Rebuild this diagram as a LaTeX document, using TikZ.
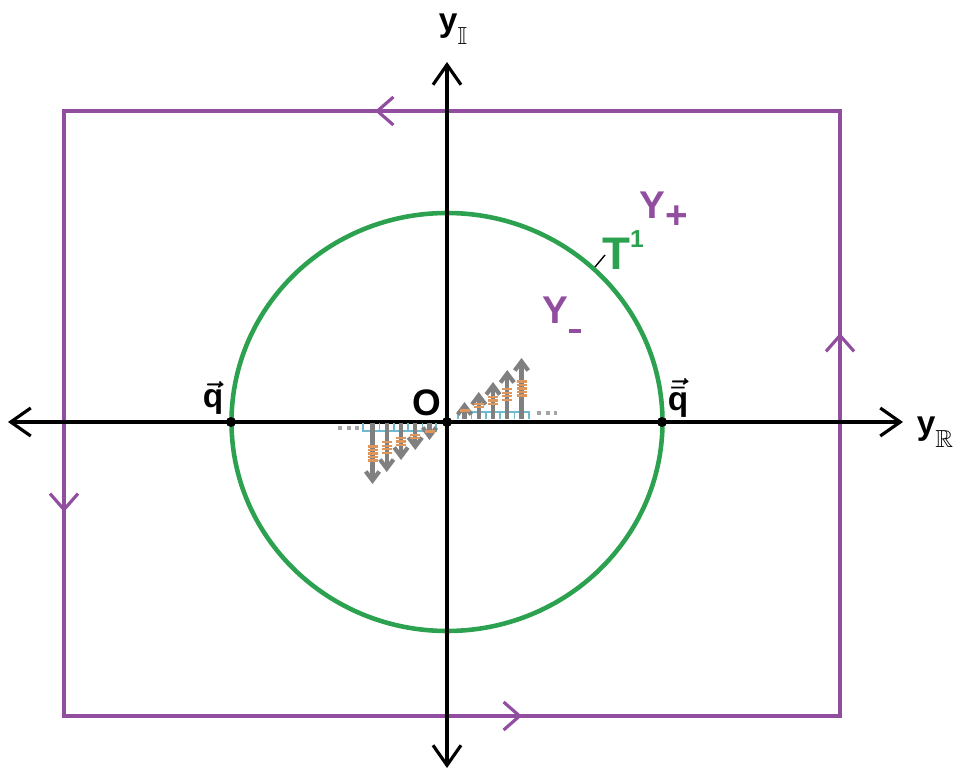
\documentclass[tikz,border=0pt]{standalone}
\usepackage{amsmath,amssymb}
\usepackage{fontspec}
\setmainfont{Liberation Sans}
\usetikzlibrary{arrows.meta,decorations.markings}
\definecolor{rimpurple}{RGB}{146,78,158}
\definecolor{torusgreen}{RGB}{44,162,80}
\definecolor{fieldgray}{RGB}{128,128,128}
\definecolor{dotgray}{RGB}{165,165,165}
\definecolor{tickorange}{RGB}{222,150,90}
\definecolor{stepcyan}{RGB}{110,185,205}

\begin{document}
\begin{tikzpicture}[
    axisline/.style={line width=0.9pt,{Straight Barb[length=2mm,width=2.8mm]}-{Straight Barb[length=2mm,width=2.8mm]}},
    fieldarrow/.style={fieldgray,line width=1.2pt,-{Straight Barb[length=0.9mm,width=1.35mm]}},
    lab/.style={font=\bfseries\fontsize{9.5}{10}\selectfont,inner sep=1pt}]
    \useasboundingbox (-4.47,-3.49) rectangle (5.12,4.22);
    \coordinate (O) at (0,0);
    \coordinate (qL) at (-2.16,0);
    \coordinate (qR) at (2.15,0);
    \coordinate (xl) at (-4.39,0);
    \coordinate (xr) at (4.56,0);
    \coordinate (yt) at (0,3.60);
    \coordinate (yb) at (0,-3.46);
    %% contour
    \draw[rimpurple,line width=0.9pt,postaction={decorate},decoration={markings,
        mark=at position 4.65cm with {\arrow{Straight Barb[length=1.6mm,width=2.8mm]}},
        mark=at position 11.77cm with {\arrow{Straight Barb[length=1.6mm,width=2.8mm]}},
        mark=at position 18.39cm with {\arrow{Straight Barb[length=1.6mm,width=2.8mm]}},
        mark=at position 25.40cm with {\arrow{Straight Barb[length=1.6mm,width=2.8mm]}}}]
        (3.93,3.11) -- (-3.83,3.11) -- (-3.83,-2.94) -- (3.93,-2.94) -- cycle;
    %% torus
    \draw[torusgreen,line width=1.3pt] (O) ellipse [x radius=2.155, y radius=2.09];
    %% axes
    \draw[axisline] (xl) -- (xr);
    \draw[axisline] (yb) -- (yt);
    %
    \draw[stepcyan,line width=0.5pt] (0.11,0.03) |- (0.82,0.10) -- (0.82,0.03);
    \draw[stepcyan,line width=0.5pt] (-0.11,-0.01) |- (-0.84,-0.09) -- (-0.84,-0.01);
    \foreach \m in {0.246,0.389,0.531,0.674} {
        \draw[stepcyan,line width=0.5pt] (\m,0.03) -- (\m,0.10);
        \draw[stepcyan,line width=0.5pt] (-\m,-0.01) -- (-\m,-0.09);
    }
    \draw[dotgray,line width=1.2pt,dash pattern=on 0.04cm off 0.045cm] (0.90,0.09) -- (1.10,0.09);
    \draw[dotgray,line width=1.2pt,dash pattern=on 0.04cm off 0.045cm] (-1.09,-0.06) -- (-0.87,-0.06);
    %% field
    \foreach \i/\l in {0/0.17,1/0.27,2/0.37,3/0.49,4/0.61} {
        \pgfmathsetmacro\xx{0.175+0.1425*\i}
        \draw[fieldarrow] (\xx,0.03) -- ++(0,\l);
        \draw[fieldarrow] (-\xx,-0.01) -- ++(0,-\l);
        \foreach \k in {0,...,\i} {
            \draw[tickorange,line width=0.7pt] (\xx-0.05,0.03+0.5*\l+0.035*\k-0.0175*\i) -- ++(0.1,0);
            \draw[tickorange,line width=0.7pt] (-\xx-0.05,-0.01-0.5*\l-0.035*\k+0.0175*\i) -- ++(0.1,0);
        }
    }
    %% points
    \fill (O) circle (0.05);
    \fill (qL) circle (0.05);
    \fill (qR) circle (0.05);
    %
    \node[lab,font=\bfseries\fontsize{10.5}{11}\selectfont] (olab) at (-0.20,0.19) {O};
    \node[lab] (qLlab) at (-2.34,0.24) {$\boldsymbol{\vec{\textbf{q}}}$};
    \node[lab] (qRlab) at (2.31,0.24) {$\boldsymbol{\vec{\bar{\textbf{q}}}}$};
    \node[lab] (ylab) at (0.06,3.93) {y\raisebox{-0.75ex}{\fontsize{7}{8}\selectfont$\mathbb{I}$}};
    \node[lab] (xlab) at (4.88,-0.10) {y\raisebox{-0.75ex}{\fontsize{7}{8}\selectfont$\mathbb{R}$}};
    \node[lab,rimpurple,font=\bfseries\fontsize{11}{12}\selectfont] (yplus) at (2.17,2.12) {Y\raisebox{-0.5ex}{+}};
    \node[lab,rimpurple,font=\bfseries\fontsize{11}{12}\selectfont] (yminus) at (1.15,1.07) {Y\raisebox{-0.45ex}{\rule{0.32em}{0.09em}}};
    \node[lab,torusgreen,font=\bfseries\fontsize{13}{14}\selectfont] (tlab) at (1.76,1.72) {T\raisebox{0.9ex}{\fontsize{7}{8}\selectfont 1}};
    \coordinate (tfoot) at (1.48,1.55);
    \coordinate (ttop) at (1.58,1.67);
    \draw[line width=0.4pt] (tfoot) -- (ttop);
\end{tikzpicture}
\end{document}
